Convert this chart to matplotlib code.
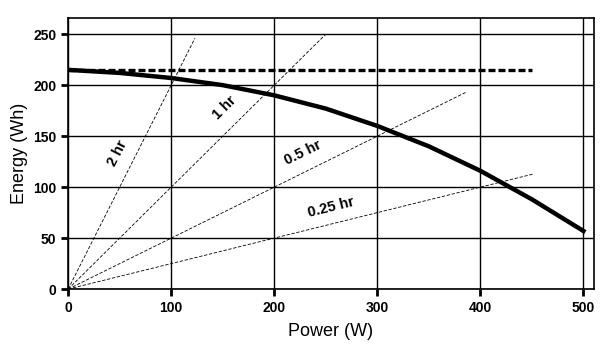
import numpy as np
import matplotlib.pyplot as plt

plt.rcParams['font.family'] = ['Liberation Sans', 'DejaVu Sans']

# Battery energy available vs. discharge power
power = [0, 50, 100, 150, 200, 250, 300, 350, 400, 450, 500]
energy = [215, 212, 207, 200, 190, 177, 160, 140, 116, 88, 57]

# Nominal (ideal) capacity
nominal_power = [0, 450]
nominal_energy = [215, 215]

# Constant discharge-time lines: E = P * t
hours = [2, 1, 0.5, 0.25]
hour_pmax = [123, 250, 386, 451]
hour_labels = ['2 hr', '1 hr', '0.5 hr', '0.25 hr']
label_pos = [(48, 133), (152, 178), (228, 134), (255, 80)]
label_rot = [63, 45, 26, 14]

fig = plt.figure(figsize=(6.14, 3.5), dpi=100)
ax = fig.add_axes([0.111, 0.174, 0.856, 0.775])

for h, pmax in zip(hours, hour_pmax):
    p = np.array([0, pmax])
    ax.plot(p, h * p, color='black', lw=0.6, ls=(0, (4, 2)), zorder=3)

for txt, (x, y), r in zip(hour_labels, label_pos, label_rot):
    ax.text(x, y, txt, rotation=r, rotation_mode='anchor', ha='center', va='center',
            fontsize=10.5, fontweight='bold', zorder=4)

ax.plot(nominal_power, nominal_energy, color='black', lw=2.4, ls=(0, (2.1, 0.9)), zorder=4)
ax.plot(power, energy, color='black', lw=3.2, solid_joinstyle='round', zorder=5)

ax.set_xlim(0, 510)
ax.set_ylim(0, 266)
ax.set_xticks([0, 100, 200, 300, 400, 500])
ax.set_yticks([0, 50, 100, 150, 200, 250])
ax.grid(True, color='black', lw=1)
ax.tick_params(direction='out', length=5, width=2, labelsize=10)
for lbl in ax.get_xticklabels() + ax.get_yticklabels():
    lbl.set_fontweight('bold')
for s in ax.spines.values():
    s.set_linewidth(1.2)

ax.set_xlabel('Power (W)', fontsize=13, labelpad=6)
ax.set_ylabel('Energy (Wh)', fontsize=13, labelpad=4)

fig.savefig('out.png', dpi=100)
